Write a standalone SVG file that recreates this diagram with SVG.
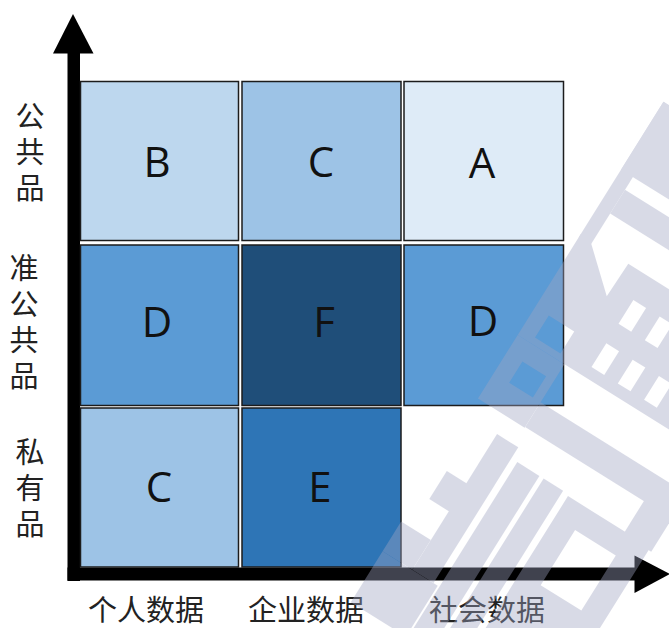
<svg xmlns="http://www.w3.org/2000/svg" width="669" height="628" viewBox="0 0 669 628">
<style>
.cell{stroke:#1c1c1c;stroke-width:1.5}
.lt{font-family:"Open Sans","Liberation Sans",sans-serif;font-size:42px;fill:#111;text-anchor:middle}
.cj{font-family:"Noto Sans CJK SC","Noto Sans",sans-serif;font-size:29px;fill:#222;text-anchor:middle}
.vt{font-family:"Noto Sans CJK SC","Noto Sans",sans-serif;font-size:29px;fill:#222;writing-mode:vertical-rl;letter-spacing:7px;text-anchor:start}
.wm{fill:#A0A5C3}
</style>
<rect width="669" height="628" fill="#ffffff"/>
<g id="connectors">
  <rect x="67.5" y="50" width="12.5" height="531" fill="#000"/>
  <polygon points="73,14 53,53.5 93.5,53.5" fill="#000"/>
  <rect x="67.5" y="567.5" width="570" height="13" fill="#000"/>
  <polygon points="634.5,555.5 670,574 634.5,593" fill="#000"/>
</g>
<g id="cell-B"><rect class="cell" x="80.5" y="81.5" width="158" height="159" fill="#BDD7EE"/><text class="lt" x="157" y="177">B</text></g>
<g id="cell-C1"><rect class="cell" x="242" y="81.5" width="159" height="159" fill="#9DC3E6"/><text class="lt" x="321" y="177">C</text></g>
<g id="cell-A"><rect class="cell" x="404" y="81.5" width="159.5" height="159" fill="#DEEBF7"/><text class="lt" x="482" y="178">A</text></g>
<g id="cell-D1"><rect class="cell" x="80.5" y="245" width="158" height="160.5" fill="#5B9BD5"/><text class="lt" x="157" y="337">D</text></g>
<g id="cell-F"><rect class="cell" x="242" y="245" width="159" height="160.5" fill="#1F4E79"/><text class="lt" x="324" y="337">F</text></g>
<g id="cell-D2"><rect class="cell" x="404" y="245" width="159.5" height="160.5" fill="#5B9BD5"/><text class="lt" x="483" y="336">D</text></g>
<g id="cell-C2"><rect class="cell" x="80.5" y="408" width="158" height="159" fill="#9DC3E6"/><text class="lt" x="159" y="502">C</text></g>
<g id="cell-E"><rect class="cell" x="242" y="408" width="159" height="159" fill="#2E75B6"/><text class="lt" x="320" y="502">E</text></g>
<g id="y-labels">
  <text class="vt" x="30" y="101.5">公共品</text>
  <text class="vt" x="24" y="253.5">准公共品</text>
  <text class="vt" x="30" y="437.5">私有品</text>
</g>
<g id="x-labels">
  <text class="cj" x="146" y="621">个人数据</text>
  <text class="cj" x="306" y="621">企业数据</text>
  <text class="cj" x="487" y="621">社会数据</text>
</g>
<g id="watermark" opacity="0.4" class="wm" transform="translate(366.7 576.7) rotate(32)">
  <rect x="0" y="-560" width="250" height="80"/>
  <rect x="0" y="-560" width="14" height="160"/>
  <rect x="14" y="-465" width="260" height="28"/>
  <path fill-rule="evenodd" d="M0,-404 L11,-404 L55,-365 L56,-404 L300,-404 L300,-285 L0,-285 Z M79.5,-376 h15 v28 h-15 Z M110.5,-376 h15 v28 h-15 Z M141.5,-376 h15 v28 h-15 Z M79.5,-325 h15 v28 h-15 Z M110.5,-325 h15 v28 h-15 Z M141.5,-325 h15 v28 h-15 Z M16,-318 h30 v26 h-30 Z"/>
  <path fill-rule="evenodd" d="M0,-285 h55 v75 h-55 Z M18,-265 h28 v25 h-28 Z"/>
  <rect x="55" y="-240" width="245" height="29"/>
  <rect x="195" y="-212" width="33" height="40"/>
  <rect x="35" y="-190" width="25" height="160"/>
  <rect x="12" y="-132" width="24" height="33"/>
  <rect x="67" y="-177" width="26" height="200"/>
  <rect x="98" y="-177" width="23" height="200"/>
  <path fill-rule="evenodd" d="M128,-175 h97 v195 h-97 Z M152,-150 h48 v65 h-48 Z"/>
  <rect x="0" y="-30" width="65" height="60"/>
  <rect x="0" y="-65" width="35" height="35"/>
</g>
</svg>
